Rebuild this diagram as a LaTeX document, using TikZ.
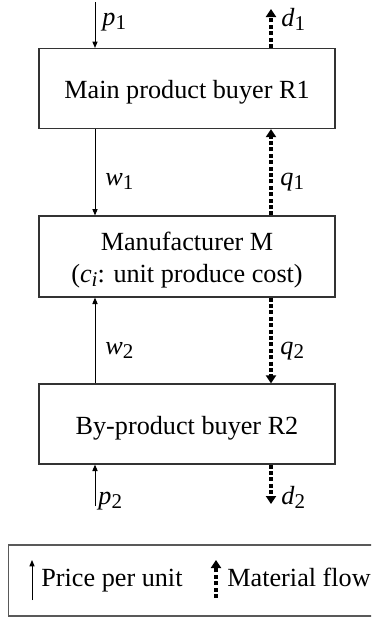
\documentclass[tikz,border=0pt]{standalone}
\usepackage{fontspec}
\setmainfont{Liberation Serif}
\usetikzlibrary{arrows.meta}
\newcommand{\sv}[2]{\textit{#1}\raisebox{-0.35ex}{\fontsize{10.5}{12}\selectfont #2}}
\begin{document}
\begin{tikzpicture}[x=0.5pt,y=-0.5pt,
  font=\fontsize{13.1}{15.5}\selectfont,
  boxnode/.style={draw=black!80, line width=0.6pt, minimum width=148pt, minimum height=40pt, inner sep=0pt, text height=12pt, text depth=2pt},
  price/.style={line width=0.5pt, -{Triangle[length=3.2pt,width=2.6pt]}},
  flow/.style={line width=1.6pt, dash pattern=on 2pt off 1.2pt, -{Triangle[length=4pt,width=5pt]}},
  lbl/.style={inner sep=0pt, anchor=base west}]
\useasboundingbox (0,0) rectangle (371,617);
\clip (0,0) rectangle (371,617);
\node[boxnode] (r1) at (187,88.5) {Main product buyer R1};
\node[boxnode, minimum height=40.5pt, text height=12pt, text depth=18.5pt] (m) at (187,256.5)
  {\setlength{\tabcolsep}{0pt}\begin{tabular}[t]{c}Manufacturer M\\[0.5pt](\sv{c}{\textit{i}}: unit produce cost)\end{tabular}};
\node[boxnode] (r2) at (187,424) {By-product buyer R2};
\coordinate (xl) at (95,0);
\coordinate (xr) at (271,0);
\coordinate (p1s) at (95,2);
\coordinate (d1e) at (271,9);
\coordinate (p2s) at (95,506);
\coordinate (d2e) at (271,504);
% price arrows
\draw[price] (p1s) -- (r1.north -| p1s);
\draw[price] (r1.south -| xl) -- (m.north -| xl);
\draw[price] (r2.north -| xl) -- (m.south -| xl);
\draw[price] (p2s) -- (r2.south -| p2s);
% flow arrows
\draw[flow] (r1.north -| xr) -- (d1e);
\draw[flow] (m.north -| xr) -- (r1.south -| xr);
\draw[flow] (m.south -| xr) -- (r2.north -| xr);
\draw[flow] (r2.south -| xr) -- (d2e);
% labels
\node[lbl] (lp1) at (102,25) {\sv{p}{1}};
\node[lbl] (ld1) at (281,26) {\sv{d}{1}};
\node[lbl] (lw1) at (105,185) {\sv{w}{1}};
\node[lbl] (lq1) at (280,185) {\sv{q}{1}};
\node[lbl] (lw2) at (105,354) {\sv{w}{2}};
\node[lbl] (lq2) at (280,354) {\sv{q}{2}};
\node[lbl] (lp2) at (98,504) {\sv{p}{2}};
\node[lbl] (ld2) at (281,504) {\sv{d}{2}};
% legend
\node[draw=black!65, line width=0.8pt, minimum width=195pt, minimum height=35.5pt, anchor=north west, inner sep=0pt] (leg) at (7.5,544) {};
\coordinate (la1s) at (32,600);
\coordinate (la1e) at (32,560);
\coordinate (la2s) at (216,598);
\coordinate (la2e) at (216,560);
\draw[price] (la1s) -- (la1e);
\draw[flow] (la2s) -- (la2e);
\node[lbl] (lt1) at (41,586) {Price per unit};
\node[lbl] (lt2) at (227,586) {Material flow};
\end{tikzpicture}
\end{document}
